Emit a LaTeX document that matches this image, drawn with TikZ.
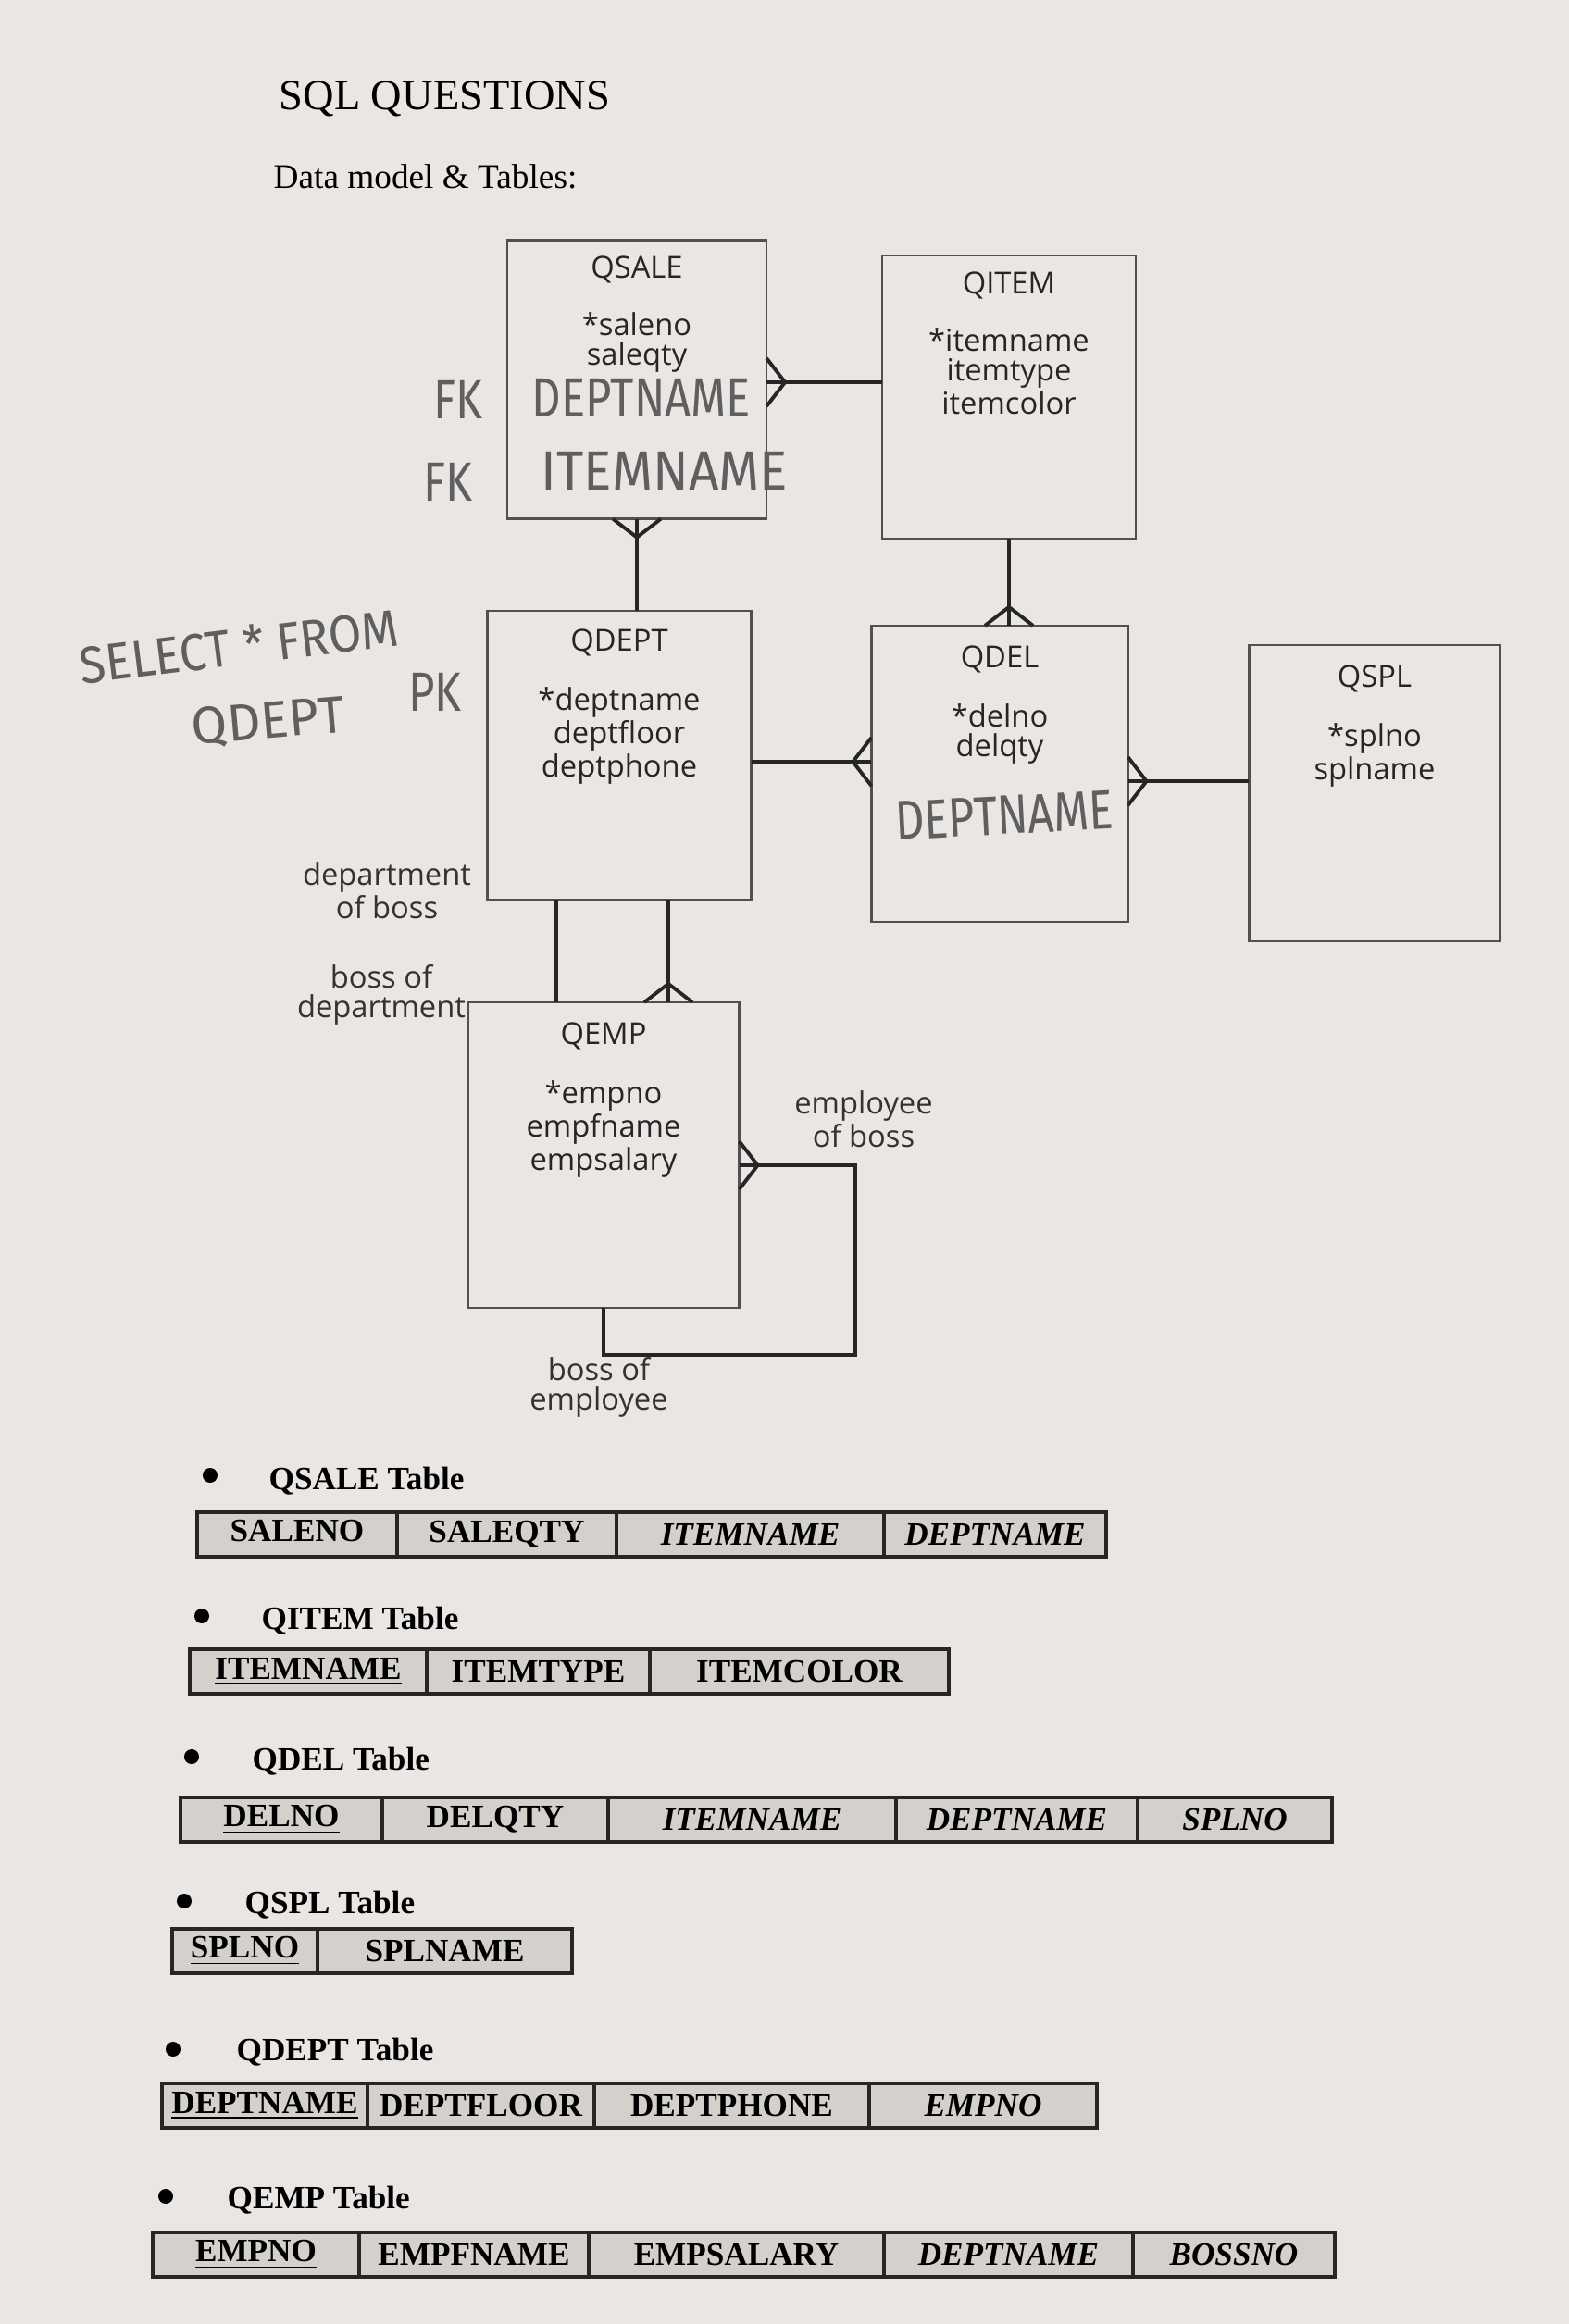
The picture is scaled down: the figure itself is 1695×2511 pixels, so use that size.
\documentclass[tikz,border=0pt]{standalone}
\usepackage{fontspec}
\setmainfont{Liberation Serif}
\newfontfamily\erfont{Open Sans}
\newfontfamily\handfont{Fira Sans}
\usepackage{tikz}
\usetikzlibrary{calc,positioning}
\definecolor{paper}{RGB}{233,230,227}
\definecolor{cellgray}{RGB}{212,209,205}
\definecolor{inkgray}{RGB}{95,95,95}
\definecolor{boxline}{RGB}{80,80,80}
% squeezed "handwriting"
\newcommand{\hw}[1]{\scalebox{0.82}[1]{#1}}
% crow's foot at an edge point, #2 = direction pointing away from the entity
\newcommand{\crowfoot}[2]{%
  \draw[rel] ($(#1)+(#2:0.2cm)$) -- ($(#1)+(#2+90:0.26cm)$)
             ($(#1)+(#2:0.2cm)$) -- ($(#1)+(#2-90:0.26cm)$);}

\begin{document}
\begin{tikzpicture}[x=0.01cm,y=-0.01cm,
    entity/.style={draw=boxline,line width=0.7pt,inner sep=0pt,outer sep=0pt},
    etext/.style={font=\erfont\fontsize{9.3}{9.1}\selectfont,align=center,inner sep=0pt,text=black!85},
    rlabel/.style={font=\erfont\fontsize{9.3}{9.1}\selectfont,align=center,inner sep=0pt,text=black!80},
    rel/.style={line width=1.1pt,black!85},
    hand/.style={font=\handfont\fontsize{17}{17}\selectfont,text=inkgray,inner sep=0pt},
    cell/.style={draw=black!85,line width=1.1pt,fill=cellgray,minimum height=0.48cm,
      inner sep=0pt,outer sep=0pt,font=\bfseries\fontsize{10}{12}\selectfont},
    tabhead/.style={font=\bfseries\fontsize{10}{12}\selectfont,anchor=west,inner sep=0pt}]
  \fill[paper] (0,0) rectangle (1695,2511);
  \useasboundingbox (0,0) rectangle (1695,2511);

  \node[anchor=base west,inner sep=0pt,font=\fontsize{13.2}{15}\selectfont] (title) at (301,118) {SQL QUESTIONS};
  \node[anchor=base west,inner sep=0pt,font=\fontsize{10.6}{13}\selectfont] (subtitle) at (295,203) {\underline{Data model \& Tables:}};

  % entities
  \node[entity,minimum width=2.80cm,minimum height=3.01cm] (qsale) at (688,410) {};
  \node[entity,minimum width=2.74cm,minimum height=3.06cm] (qitem) at (1090,429) {};
  \node[entity,minimum width=2.85cm,minimum height=3.12cm] (qdept) at (669,816) {};
  \node[entity,minimum width=2.77cm,minimum height=3.20cm] (qdel) at (1080,836) {};
  \node[entity,minimum width=2.71cm,minimum height=3.20cm] (qspl) at (1485,857) {};
  \node[entity,minimum width=2.93cm,minimum height=3.30cm] (qemp) at (652,1248) {};

  \node[etext,below=0.17cm of qsale.north] (qsale-txt) {QSALE\\[0.3cm]*saleno\\saleqty};
  \node[etext,below=0.17cm of qitem.north] (qitem-txt) {QITEM\\[0.3cm]*itemname\\itemtype\\itemcolor};
  \node[etext,below=0.19cm of qdept.north] (qdept-txt) {QDEPT\\[0.32cm]*deptname\\deptfloor\\deptphone};
  \node[etext,below=0.21cm of qdel.north] (qdel-txt) {QDEL\\[0.32cm]*delno\\delqty};
  \node[etext,below=0.21cm of qspl.north] (qspl-txt) {QSPL\\[0.32cm]*splno\\splname};
  \node[etext,below=0.21cm of qemp.north] (qemp-txt) {QEMP\\[0.32cm]*empno\\empfname\\empsalary};

  % relationships
  \coordinate (saleE) at ([yshift=-0.03cm]qsale.east);
  \draw[rel] (saleE) -- (saleE -| qitem.west);
  \crowfoot{saleE}{0}
  \draw[rel] (qsale.south) -- (qsale.south |- qdept.north);
  \crowfoot{qsale.south}{-90}
  \coordinate (delTop) at (qitem.south |- qdel.north);
  \draw[rel] (qitem.south) -- (delTop);
  \crowfoot{delTop}{90}
  \coordinate (deptE) at ([yshift=-0.07cm]qdept.east);
  \coordinate (delW) at (deptE -| qdel.west);
  \draw[rel] (deptE) -- (delW);
  \crowfoot{delW}{180}
  \coordinate (delE) at ([yshift=-0.08cm]qdel.east);
  \draw[rel] (delE) -- (delE -| qspl.west);
  \crowfoot{delE}{0}
  \coordinate (bossA) at ([xshift=-0.68cm]qdept.south);
  \coordinate (bossB) at ([xshift=0.53cm]qdept.south);
  \coordinate (empTop) at (bossB |- qemp.north);
  \draw[rel] (bossA) -- (bossA |- qemp.north);
  \draw[rel] (bossB) -- (empTop);
  \crowfoot{empTop}{90}
  \coordinate (empE) at ([yshift=-0.11cm]qemp.east);
  \coordinate (loopC) at (924,1464);
  \draw[rel] (empE) -| (loopC) -| (qemp.south);
  \crowfoot{empE}{0}

  \node[rlabel] (lbl-dob) at (418,962) {department\\of boss};
  \node[rlabel] (lbl-bod) at (412,1075) {boss of\\department};
  \node[rlabel] (lbl-eob) at (933,1209) {employee\\of boss};
  \node[rlabel] (lbl-boe) at (647,1499) {boss of\\employee};

  % pen notes
  \node[hand] (fk-a) at (495,432) {\hw{FK}};
  \node[hand] (fk-a-txt) at (693,430) {\hw{DEPTNAME}};
  \node[hand] (fk-b) at (484,521) {\hw{FK}};
  \node[hand] (fk-b-txt) at (718,509) {\scalebox{0.95}[1]{ITEMNAME}};
  \node[hand,rotate=7,font=\handfont\fontsize{16}{16}\selectfont] (sql-a) at (258,698) {\scalebox{0.92}[1]{SELECT * FROM}};
  \node[hand,rotate=5,font=\handfont\fontsize{16}{16}\selectfont] (sql-b) at (290,781) {QDEPT};
  \node[hand] (pk) at (470,748) {\hw{PK}};
  \node[hand,rotate=3] (del-fk) at (1085,881) {\hw{DEPTNAME}};

  % tables
  \fill (227,1594) circle (0.08cm);
  \node[tabhead] (qsale-head) at (290,1600) {QSALE Table};
  \foreach \xa/\xb/\txt [count=\i] in {213/429/\underline{SALENO},429/666/SALEQTY,
      666/955/\textit{ITEMNAME},955/1195/\textit{DEPTNAME}}
    \node[cell,minimum width={(\xb-\xa)*0.01cm}] (qsale-c\i) at ({(\xa+\xb)/2},1658) {\txt};

  \fill (218,1746) circle (0.08cm);
  \node[tabhead] (qitem-head) at (282,1751) {QITEM Table};
  \foreach \xa/\xb/\txt [count=\i] in {205/461/\underline{ITEMNAME},461/702/ITEMTYPE,
      702/1025/ITEMCOLOR}
    \node[cell,minimum width={(\xb-\xa)*0.01cm}] (qitem-c\i) at ({(\xa+\xb)/2},1806) {\txt};

  \fill (207,1898) circle (0.08cm);
  \node[tabhead] (qdel-head) at (272,1903) {QDEL Table};
  \foreach \xa/\xb/\txt [count=\i] in {195/413/\underline{DELNO},413/657/DELQTY,
      657/968/\textit{ITEMNAME},968/1229/\textit{DEPTNAME},1229/1439/\textit{SPLNO}}
    \node[cell,minimum width={(\xb-\xa)*0.01cm}] (qdel-c\i) at ({(\xa+\xb)/2},1966) {\txt};

  \fill (199,2054) circle (0.08cm);
  \node[tabhead] (qspl-head) at (264,2058) {QSPL Table};
  \foreach \xa/\xb/\txt [count=\i] in {186/343/\underline{SPLNO},343/618/SPLNAME}
    \node[cell,minimum width={(\xb-\xa)*0.01cm}] (qspl-c\i) at ({(\xa+\xb)/2},2108) {\txt};

  \fill (187,2214) circle (0.08cm);
  \node[tabhead] (qdept-head) at (255,2217) {QDEPT Table};
  \foreach \xa/\xb/\txt [count=\i] in {175/397/\underline{DEPTNAME},397/642/DEPTFLOOR,
      642/939/DEPTPHONE,939/1185/\textit{EMPNO}}
    \node[cell,minimum width={(\xb-\xa)*0.01cm}] (qdept-c\i) at ({(\xa+\xb)/2},2275) {\txt};

  \fill (179,2373) circle (0.08cm);
  \node[tabhead] (qemp-head) at (245,2377) {QEMP Table};
  \foreach \xa/\xb/\txt [count=\i] in {165/388/\underline{EMPNO},388/636/EMPFNAME,
      636/955/EMPSALARY,955/1224/\textit{DEPTNAME},1224/1442/\textit{BOSSNO}}
    \node[cell,minimum width={(\xb-\xa)*0.01cm}] (qemp-c\i) at ({(\xa+\xb)/2},2436) {\txt};
\end{tikzpicture}
\end{document}
